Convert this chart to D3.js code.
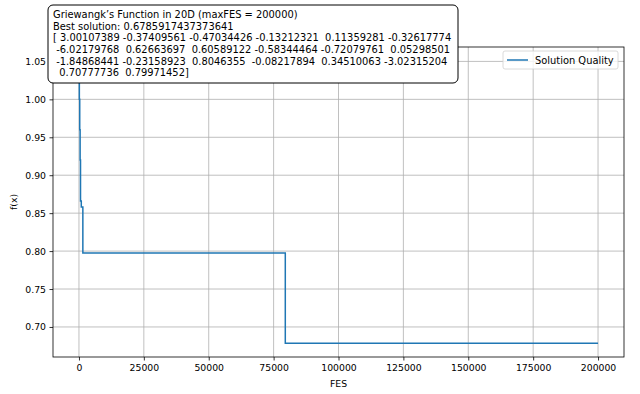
<!DOCTYPE html>
<html>
<head>
<meta charset="utf-8">
<script src="https://cdn.jsdelivr.net/npm/d3@7"></script>
<style>
  body { margin: 0; background: #fff; }
  svg { font-family: "DejaVu Sans", sans-serif; }
</style>
</head>
<body>
<div id="chart"></div>
<script>
// convergence history (FES -> best f(x))
const fesValues = [0, 150, 300, 450, 600, 900, 1500, 79500, 200000]
const fxValues = [1.05, 1.0, 0.96, 0.92, 0.866, 0.858, 0.7976, 0.67859, 0.67859]
const xTicks = [0, 25000, 50000, 75000, 100000, 125000, 150000, 175000, 200000]
const yTicks = [0.70, 0.75, 0.80, 0.85, 0.90, 0.95, 1.00, 1.05]
const seriesName = 'Solution Quality'
const noteLines = [
  'Griewangk\u2019s Function in 20D (maxFES = 200000)',
  'Best solution: 0.6785917437373641',
  '[ 3.00107389 -0.37409561 -0.47034426 -0.13212321  0.11359281 -0.32617774',
  ' -6.02179768  0.62663697  0.60589122 -0.58344464 -0.72079761  0.05298501',
  ' -1.84868441 -0.23158923  0.8046355  -0.08217894  0.34510063 -3.02315204',
  '  0.70777736  0.79971452]'
]

const W = 640, H = 394
const margin = { left: 53, right: 16, top: 47, bottom: 37 }
const data = fesValues.map((x, i) => ({ x, y: fxValues[i] }))
const tickFont = 9.3

const svg = d3.select('#chart').append('svg')
  .attr('width', W).attr('height', H)

const x = d3.scaleLinear().domain([-10000, 210000]).range([margin.left, W - margin.right])
const y = d3.scaleLinear().domain([0.6604, 1.069]).range([H - margin.bottom, margin.top])

const clip = svg.append('defs').append('clipPath').attr('id', 'plot')
clip.append('rect')
  .attr('x', margin.left).attr('y', margin.top)
  .attr('width', W - margin.left - margin.right).attr('height', H - margin.top - margin.bottom)

// grid
const grid = svg.append('g').attr('stroke', '#b0b0b0').attr('stroke-width', 0.8)
grid.selectAll('.gx').data(xTicks).join('line')
  .attr('x1', d => x(d)).attr('x2', d => x(d))
  .attr('y1', margin.top).attr('y2', H - margin.bottom)
grid.selectAll('.gy').data(yTicks).join('line')
  .attr('y1', d => y(d)).attr('y2', d => y(d))
  .attr('x1', margin.left).attr('x2', W - margin.right)

// line
svg.append('path')
  .datum(data)
  .attr('clip-path', 'url(#plot)')
  .attr('fill', 'none')
  .attr('stroke', '#1f77b4')
  .attr('stroke-width', 1.5)
  .attr('d', d3.line().x(d => x(d.x)).y(d => y(d.y)).curve(d3.curveStepAfter))

// axes
const xAxis = svg.append('g')
  .attr('transform', `translate(0,${H - margin.bottom})`)
  .call(d3.axisBottom(x).tickValues(xTicks).tickFormat(d3.format('d')).tickSizeOuter(0).tickSize(3.5).tickPadding(3.5))
const yAxis = svg.append('g')
  .attr('transform', `translate(${margin.left},0)`)
  .call(d3.axisLeft(y).tickValues(yTicks).tickFormat(d3.format('.2f')).tickSizeOuter(0).tickSize(3.5).tickPadding(3.5))
;[xAxis, yAxis].forEach(a => {
  a.select('.domain').remove()
  a.selectAll('text').attr('font-size', tickFont).attr('fill', '#000').attr('font-family', '"DejaVu Sans", sans-serif')
  a.selectAll('line').attr('stroke', '#000').attr('stroke-width', 0.8)
})

// frame
svg.append('rect')
  .attr('x', margin.left).attr('y', margin.top)
  .attr('width', W - margin.left - margin.right).attr('height', H - margin.top - margin.bottom)
  .attr('fill', 'none').attr('stroke', '#000').attr('stroke-width', 0.8)

svg.append('text').text('FES')
  .attr('x', (margin.left + W - margin.right) / 2).attr('y', 387)
  .attr('text-anchor', 'middle').attr('font-size', tickFont)
svg.append('text').text('f(x)')
  .attr('transform', `translate(17,${(margin.top + H - margin.bottom) / 2}) rotate(-90)`)
  .attr('text-anchor', 'middle').attr('font-size', tickFont)

// legend
const lg = svg.append('g')
lg.append('rect')
  .attr('x', 503).attr('y', 51).attr('width', 115).attr('height', 18).attr('rx', 2)
  .attr('fill', '#fff').attr('fill-opacity', 0.8).attr('stroke', '#d0d0d0').attr('stroke-width', 0.8)
lg.append('line').attr('x1', 507).attr('x2', 528).attr('y1', 60).attr('y2', 60)
  .attr('stroke', '#1f77b4').attr('stroke-width', 1.5)
lg.append('text').text(seriesName).attr('x', 535).attr('y', 63.5).attr('font-size', 9.9)

// annotation box
const note = svg.append('g')
note.append('rect')
  .attr('x', 48).attr('y', 5).attr('width', 410).attr('height', 78).attr('rx', 5)
  .attr('fill', '#fff').attr('stroke', '#000').attr('stroke-width', 1)
note.selectAll('text').data(noteLines).join('text')
  .attr('x', 53).attr('y', (d, i) => 17.8 + i * 11.7)
  .attr('font-size', 9.9)
  .style('white-space', 'pre')
  .attr('xml:space', 'preserve')
  .text(d => d)
</script>
</body>
</html>
